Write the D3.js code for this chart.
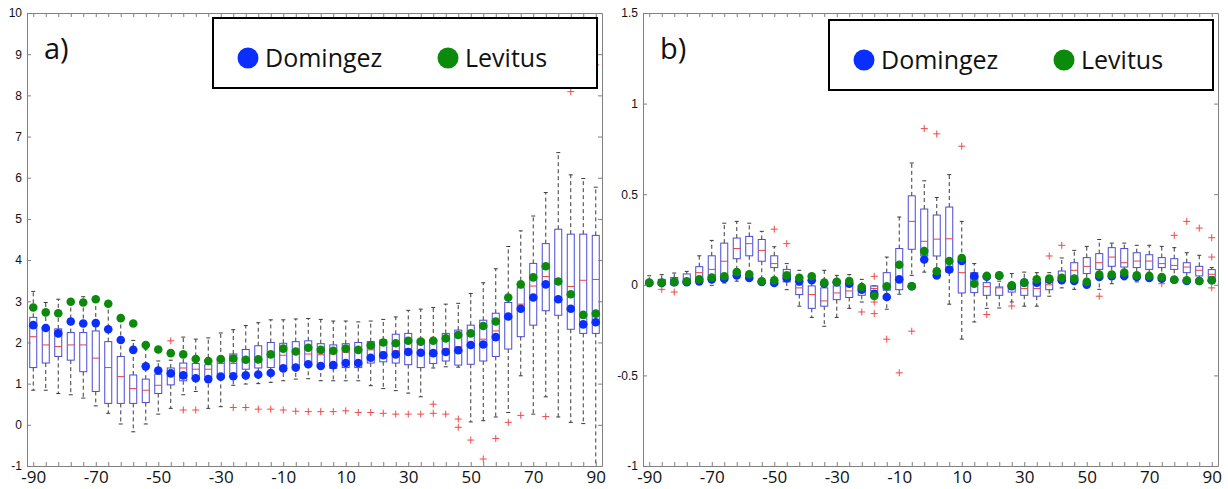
<!DOCTYPE html>
<html>
<head>
<meta charset="utf-8">
<script src="https://cdnjs.cloudflare.com/ajax/libs/d3/7.8.5/d3.min.js"></script>
<style>
body { margin: 0; background: #fff; }
svg { display: block; background: #fff; }
</style>
</head>
<body>
<svg id="svg" width="1228" height="489"></svg>
<script>
// latitude of every box, and the labelled ones
var lats = [-90, -86, -82, -78, -74, -70, -66, -62, -58, -54, -50, -46, -42, -38, -34, -30,
    -26, -22, -18, -14, -10, -6, -2, 2, 6, 10, 14, 18, 22, 26, 30, 34, 38, 42, 46, 50,
    54, 58, 62, 66, 70, 74, 78, 82, 86, 90];
var latLabels = [-90, -70, -50, -30, -10, 10, 30, 50, 70, 90];
var seriesNames = ['Domingez', 'Levitus'];

// panel a)
var aTicks = [-1, 0, 1, 2, 3, 4, 5, 6, 7, 8, 9, 10];
var aLow = [0.84, 0.84, 0.76, 0.73, 0.65, 0.46, 0.28, 0.02, -0.17, 0.02,
    0.26, 0.40, 0.73, 0.81, 0.40, 0.44, 0.96, 0.99, 1.00, 1.03,
    1.07, 1.11, 1.12, 1.07, 1.07, 1.07, 1.07, 0.95, 0.88, 0.83,
    0.77, 0.68, 1.38, 1.41, 1.40, 0.07, 0.10, 0.19, 0.30, 1.19,
    0.26, 0.68, 0.19, 0.06, 0.03, -1.3];
var aQ1 = [1.39, 1.50, 1.66, 1.57, 1.29, 0.81, 0.52, 0.52, 0.52, 0.54,
    0.76, 0.97, 1.07, 1.11, 1.17, 1.15, 1.25, 1.35, 1.38, 1.39,
    1.43, 1.43, 1.47, 1.43, 1.37, 1.39, 1.39, 1.50, 1.53, 1.50,
    1.46, 1.39, 1.49, 1.55, 1.45, 1.47, 1.55, 1.66, 1.84, 2.14,
    2.42, 2.77, 2.66, 2.32, 2.22, 2.22];
var aMed = [2.14, 1.94, 1.90, 1.94, 1.94, 1.62, 1.39, 1.17, 0.88, 0.84,
    0.96, 1.25, 1.38, 1.35, 1.35, 1.49, 1.49, 1.57, 1.60, 1.68,
    1.69, 1.72, 1.72, 1.70, 1.72, 1.76, 1.78, 1.82, 1.77, 1.80,
    1.85, 1.75, 1.78, 1.85, 1.90, 1.95, 2.08, 2.28, 2.60, 2.93,
    3.37, 3.60, 3.55, 3.36, 3.51, 3.53];
var aQ3 = [2.61, 2.35, 2.33, 2.24, 2.24, 2.28, 2.02, 1.66, 1.21, 1.11,
    1.23, 1.38, 1.50, 1.49, 1.46, 1.60, 1.72, 1.83, 1.92, 2.00,
    1.98, 2.02, 2.04, 1.97, 1.94, 1.97, 2.00, 2.02, 2.06, 2.20,
    2.22, 2.06, 2.06, 2.22, 2.30, 2.42, 2.54, 2.71, 2.97, 3.33,
    3.92, 4.40, 4.75, 4.63, 4.63, 4.60];
var aHigh = [3.24, 2.97, 3.05, 2.99, 3.11, 3.09, 2.99, 2.52, 2.05, 1.84,
    1.55, 1.57, 2.13, 2.08, 2.11, 2.23, 2.31, 2.41, 2.48, 2.55,
    2.55, 2.57, 2.58, 2.56, 2.52, 2.52, 2.50, 2.52, 2.56, 2.62,
    2.78, 2.81, 2.85, 2.93, 2.95, 3.19, 3.45, 3.79, 4.33, 4.71,
    5.07, 5.64, 6.61, 6.07, 5.98, 5.77];
var aDom = [2.42, 2.35, 2.22, 2.51, 2.46, 2.47, 2.32, 2.06, 1.82, 1.42,
    1.32, 1.25, 1.20, 1.13, 1.11, 1.17, 1.18, 1.20, 1.22, 1.26,
    1.37, 1.39, 1.47, 1.43, 1.45, 1.50, 1.50, 1.63, 1.69, 1.71,
    1.77, 1.75, 1.74, 1.77, 1.81, 1.94, 1.95, 2.13, 2.63, 2.82,
    3.09, 3.41, 3.05, 2.82, 2.44, 2.49];
var aLev = [2.85, 2.73, 2.71, 2.99, 2.97, 3.05, 2.94, 2.59, 2.46, 1.94,
    1.83, 1.74, 1.71, 1.60, 1.55, 1.60, 1.61, 1.58, 1.59, 1.71,
    1.85, 1.78, 1.87, 1.82, 1.80, 1.85, 1.82, 1.93, 2.00, 1.98,
    2.04, 2.02, 2.04, 2.10, 2.18, 2.22, 2.40, 2.51, 3.09, 3.41,
    3.58, 3.85, 3.48, 3.17, 2.67, 2.70];
var aOut = [[-46, 2.04], [-42, 0.36], [-38, 0.36], [-26, 0.42], [-22, 0.42], [-18, 0.38],
    [-14, 0.38], [-10, 0.36], [-6, 0.33], [-2, 0.32], [2, 0.32], [6, 0.32], [10, 0.34],
    [14, 0.30], [18, 0.30], [22, 0.28], [26, 0.26], [30, 0.26], [34, 0.26], [38, 0.50],
    [38, 0.28], [42, 0.26], [46, 0.14], [46, -0.06], [50, -0.37], [54, -0.83], [58, -0.33],
    [62, 0.06], [66, 0.23], [74, 0.20], [82, 8.09], [90, 8.74]];

// panel b)
var bTicks = [-1, -0.5, 0, 0.5, 1, 1.5];
var bLow = [-0.01, -0.01, -0.005, 0.0, 0.01, -0.003, 0.01, 0.02, 0.047, 0.025,
    0.038, -0.027, -0.118, -0.18, -0.229, -0.18, -0.13, -0.095, -0.036, -0.135,
    -0.052, 0.052, 0.07, 0.07, -0.107, -0.30, -0.205, -0.13, -0.128, -0.095,
    -0.118, -0.118, -0.063, -0.017, -0.025, 0.016, -0.025, 0.006, 0.028, 0.016,
    0.028, 0.03, 0.039, 0.03, 0.028, 0.035];
var bQ1 = [0.0, 0.0, 0.0, 0.006, 0.03, 0.028, 0.028, 0.144, 0.16, 0.13,
    0.095, 0.016, -0.054, -0.13, -0.118, -0.082, -0.07, -0.058, -0.034, -0.03,
    -0.027, 0.196, 0.16, 0.159, 0.07, -0.045, -0.043, -0.058, -0.058, -0.04,
    -0.058, -0.063, -0.027, 0.025, 0.025, 0.062, 0.085, 0.102, 0.098, 0.095,
    0.085, 0.095, 0.085, 0.067, 0.049, 0.043];
var bMed = [0.01, 0.012, 0.02, 0.03, 0.067, 0.085, 0.13, 0.2, 0.227, 0.19,
    0.117, 0.06, -0.017, -0.054, -0.089, -0.045, -0.034, -0.03, -0.02, 0.005,
    0.10, 0.35, 0.24, 0.252, 0.254, 0.067, 0.05, -0.01, -0.017, -0.02,
    -0.02, -0.021, 0.0, 0.05, 0.08, 0.102, 0.122, 0.153, 0.122, 0.131,
    0.131, 0.117, 0.107, 0.098, 0.08, 0.058];
var bQ3 = [0.02, 0.03, 0.04, 0.06, 0.10, 0.16, 0.23, 0.258, 0.267, 0.25,
    0.16, 0.085, 0.0, -0.006, -0.017, -0.006, 0.012, -0.006, -0.006, 0.067,
    0.2, 0.491, 0.418, 0.385, 0.429, 0.14, 0.067, 0.012, -0.012, 0.0,
    0.0, 0.006, 0.03, 0.076, 0.122, 0.15, 0.172, 0.205, 0.2, 0.177,
    0.166, 0.15, 0.144, 0.122, 0.102, 0.084];
var bHigh = [0.05, 0.056, 0.065, 0.074, 0.16, 0.245, 0.34, 0.35, 0.34, 0.295,
    0.21, 0.117, 0.08, 0.04, 0.08, 0.052, 0.056, 0.03, -0.006, 0.153,
    0.374, 0.672, 0.574, 0.482, 0.608, 0.35, 0.117, 0.03, 0.02, 0.062,
    0.07, 0.067, 0.067, 0.148, 0.19, 0.212, 0.25, 0.23, 0.23, 0.218,
    0.218, 0.212, 0.205, 0.177, 0.163, 0.095];
var bDom = [0.01, 0.01, 0.014, 0.014, 0.019, 0.03, 0.034, 0.052, 0.038, 0.016,
    0.01, 0.037, 0.019, 0.025, 0.006, 0.014, 0.006, -0.027, -0.05, -0.067,
    0.03, -0.008, 0.14, 0.052, 0.084, 0.131, 0.047, 0.045, 0.05, -0.008,
    0.012, 0.012, 0.028, 0.025, 0.021, 0.001, 0.043, 0.047, 0.049, 0.043,
    0.038, 0.034, 0.028, 0.021, 0.021, 0.025];
var bLev = [0.012, 0.012, 0.016, 0.02, 0.03, 0.04, 0.047, 0.07, 0.058, 0.02,
    0.025, 0.052, 0.038, 0.047, 0.012, 0.016, 0.021, -0.012, -0.062, -0.008,
    0.111, -0.008, 0.186, 0.075, 0.131, 0.148, 0.006, 0.049, 0.052, -0.003,
    0.012, 0.03, 0.034, 0.039, 0.034, 0.016, 0.056, 0.056, 0.067, 0.052,
    0.049, 0.043, 0.028, 0.025, 0.021, 0.025];
var bOut = [[-86, -0.025], [-82, -0.04], [-50, 0.307], [-46, 0.227], [-22, -0.15],
    [-18, 0.047], [-18, -0.095], [-18, -0.159], [-14, -0.30], [-10, -0.486], [-6, -0.256],
    [-2, 0.862], [2, 0.833], [10, 0.765], [18, -0.164], [26, -0.117], [38, 0.159],
    [42, 0.218], [54, -0.063], [74, 0.006], [78, 0.273], [82, 0.35], [86, 0.313],
    [90, 0.26], [90, 0.153], [90, -0.017]];

var colors = { dom: '#0a2eff', lev: '#0b8a0b', box: '#4a4ad8', med: '#e84040', out: '#f04848', whisker: '#3a3a3a', axis: '#808080' };
var svg = d3.select('#svg');

function dg_panel_draw(cfg) {
    var top = 13, bottom = 466;
    var x = d3.scaleLinear().domain([-92, 92]).range([cfg.left, cfg.left + 575]);
    var y = d3.scaleLinear().domain(cfg.domain).range([bottom, top]);
    var right = cfg.left + 575;
    var g = svg.append('g').attr('id', cfg.id);

    g.append('clipPath').attr('id', cfg.id + 'clip')
        .append('rect')
        .attr('x', cfg.left).attr('y', top)
        .attr('width', 575).attr('height', bottom - top);

    var plot = g.append('g').attr('clip-path', 'url(#' + cfg.id + 'clip)');
    var boxes = lats.map(function(lat, i) {
        return { lat: lat, low: cfg.low[i], q1: cfg.q1[i], med: cfg.med[i], q3: cfg.q3[i], high: cfg.high[i] };
    });
    var bw = 7, cw = 4;

    var item = plot.selectAll('g.box')
        .data(boxes)
        .enter()
        .append('g')
        .attr('class', 'box');
    // whiskers
    item.append('line')
        .attr('x1', function(d) { return x(d.lat); })
        .attr('x2', function(d) { return x(d.lat); })
        .attr('y1', function(d) { return y(d.q3); })
        .attr('y2', function(d) { return y(d.high); })
        .attr('stroke', colors.whisker)
        .attr('stroke-dasharray', '4,3');
    item.append('line')
        .attr('x1', function(d) { return x(d.lat); })
        .attr('x2', function(d) { return x(d.lat); })
        .attr('y1', function(d) { return y(d.q1); })
        .attr('y2', function(d) { return y(d.low); })
        .attr('stroke', colors.whisker)
        .attr('stroke-dasharray', '4,3');
    ['high', 'low'].forEach(function(k) {
        item.append('line')
            .attr('x1', function(d) { return x(d.lat) - cw / 2; })
            .attr('x2', function(d) { return x(d.lat) + cw / 2; })
            .attr('y1', function(d) { return y(d[k]); })
            .attr('y2', function(d) { return y(d[k]); })
            .attr('stroke', colors.whisker);
    });
    item.append('rect')
        .attr('x', function(d) { return x(d.lat) - bw / 2; })
        .attr('y', function(d) { return y(d.q3); })
        .attr('width', bw)
        .attr('height', function(d) { return Math.max(0.5, y(d.q1) - y(d.q3)); })
        .attr('fill', 'none')
        .attr('stroke', colors.box);
    item.append('line')
        .attr('x1', function(d) { return x(d.lat) - bw / 2; })
        .attr('x2', function(d) { return x(d.lat) + bw / 2; })
        .attr('y1', function(d) { return y(d.med); })
        .attr('y2', function(d) { return y(d.med); })
        .attr('stroke', colors.med);

    // outliers
    var outs = plot.selectAll('g.out')
        .data(cfg.out)
        .enter()
        .append('g')
        .attr('class', 'out')
        .attr('transform', function(d) { return 'translate(' + x(d[0]) + ',' + y(d[1]) + ')'; });
    outs.append('path')
        .attr('d', 'M-3.5,0H3.5M0,-3.5V3.5')
        .attr('stroke', colors.out)
        .attr('fill', 'none');

    // series dots, blue under green
    [[cfg.dom, colors.dom], [cfg.lev, colors.lev]].forEach(function(s) {
        plot.selectAll(null)
            .data(s[0])
            .enter()
            .append('circle')
            .attr('cx', function(d, i) { return x(lats[i]); })
            .attr('cy', function(d) { return y(d); })
            .attr('r', 4.3)
            .attr('fill', s[1]);
    });

    // axes frame
    var fmt = function(d) { return latLabels.indexOf(d) >= 0 ? String(d) : ''; };
    var axB = g.append('g')
        .attr('transform', 'translate(0,' + bottom + ')')
        .call(d3.axisBottom(x).tickValues(lats).tickSizeInner(-4).tickSizeOuter(0).tickPadding(5).tickFormat(fmt));
    var axT = g.append('g')
        .attr('transform', 'translate(0,' + top + ')')
        .call(d3.axisTop(x).tickValues(lats).tickSizeInner(-4).tickSizeOuter(0).tickFormat(''));
    var axL = g.append('g')
        .attr('transform', 'translate(' + cfg.left + ',0)')
        .call(d3.axisLeft(y).tickValues(cfg.ticks).tickSizeInner(-4).tickSizeOuter(0).tickPadding(5)
            .tickFormat(function(d) { return String(d); }));
    var axR = g.append('g')
        .attr('transform', 'translate(' + right + ',0)')
        .call(d3.axisRight(y).tickValues(cfg.ticks).tickSizeInner(-4).tickSizeOuter(0).tickFormat(''));
    [axB, axT, axL, axR].forEach(function(a) {
        a.selectAll('path, line').attr('stroke', colors.axis);
    });
    axB.selectAll('text')
        .attr('font-family', '"Open Sans", sans-serif')
        .attr('font-size', 17)
        .attr('fill', '#111');
    axL.selectAll('text')
        .attr('font-family', '"Liberation Sans", Arial, sans-serif')
        .attr('font-size', 12)
        .attr('fill', '#111');

    // panel tag
    g.append('text')
        .attr('x', cfg.left + 17)
        .attr('y', 59)
        .attr('font-family', '"Open Sans", sans-serif')
        .attr('font-size', 29)
        .attr('fill', '#111')
        .text(cfg.tag);

    // legend
    var lg = g.append('g').attr('transform', 'translate(' + cfg.legendX + ',' + cfg.legendY + ')');
    lg.append('rect')
        .attr('width', 384).attr('height', 70)
        .attr('fill', '#fff')
        .attr('stroke', '#000')
        .attr('stroke-width', 2);
    var entries = [[seriesNames[0], colors.dom, 35], [seriesNames[1], colors.lev, 235]];
    entries.forEach(function(e) {
        lg.append('circle')
            .attr('cx', e[2]).attr('cy', 40)
            .attr('r', 10.5)
            .attr('fill', e[1]);
        lg.append('text')
            .attr('x', e[2] + 17).attr('y', 49)
            .attr('font-family', '"Open Sans", sans-serif')
            .attr('font-size', 25)
            .attr('fill', '#111')
            .text(e[0]);
    });
}

dg_panel_draw({ id: 'pa', tag: 'a)', left: 27, domain: [-1, 10], ticks: aTicks,
    low: aLow, q1: aQ1, med: aMed, q3: aQ3, high: aHigh, dom: aDom, lev: aLev, out: aOut,
    legendX: 213, legendY: 18 });
dg_panel_draw({ id: 'pb', tag: 'b)', left: 643, domain: [-1, 1.5], ticks: bTicks,
    low: bLow, q1: bQ1, med: bMed, q3: bQ3, high: bHigh, dom: bDom, lev: bLev, out: bOut,
    legendX: 829, legendY: 20 });
</script>
</body>
</html>
